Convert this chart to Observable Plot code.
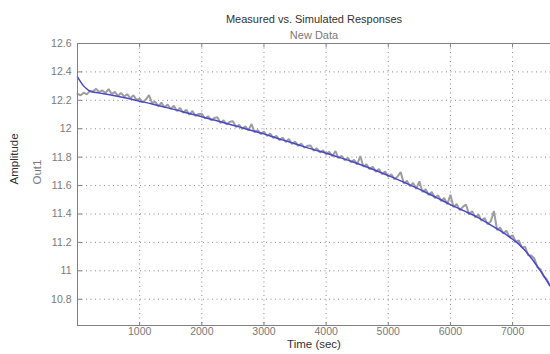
<!DOCTYPE html>
<html><head><meta charset="utf-8">
<script src="https://cdn.jsdelivr.net/npm/d3@7"></script>
<script src="https://cdn.jsdelivr.net/npm/@observablehq/plot@0.6"></script>
<style>body{margin:0;background:#fff} svg{display:block}</style>
</head><body><div id="chart"></div>
<script>
const titleText = "Measured vs. Simulated Responses";
const subtitleText = "New Data";
const xLabel = "Time (sec)";
const yLabel = "Amplitude";
const outLabel = "Out1";

const xTicks = [1000, 2000, 3000, 4000, 5000, 6000, 7000];
const yTicks = [10.8, 11, 11.2, 11.4, 11.6, 11.8, 12, 12.2, 12.4, 12.6];
const xDomain = [0, 7610];
const yDomain = [10.615, 12.6];

// Simulated response (smooth, blue)
const simTime = [0,50,100,150,200,300,400,600,800,1000,1200,1400,1600,1800,2000,2200,2400,2600,2800,3000,3200,3400,3600,3800,4000,4200,4400,4600,4800,5000,5200,5400,5600,5800,6000,6200,6400,6600,6800,7000,7100,7200,7300,7400,7500,7600];
const simValue = [12.365,12.33,12.30,12.28,12.265,12.255,12.248,12.232,12.214,12.194,12.174,12.152,12.131,12.107,12.085,12.061,12.037,12.013,11.988,11.964,11.935,11.908,11.880,11.853,11.828,11.800,11.771,11.740,11.706,11.670,11.633,11.594,11.553,11.510,11.466,11.425,11.385,11.335,11.282,11.222,11.188,11.143,11.090,11.030,10.965,10.895];

// Measured response (noisy, gray), one sample every 50 s from 0 s
const measStep = 50;
const measValue = [
12.245,12.236,12.254,12.242,12.266,12.262,12.281,12.258,12.270,12.251,
12.279,12.244,12.259,12.231,12.252,12.226,12.243,12.214,12.236,12.203,
12.212,12.186,12.205,12.237,12.181,12.190,12.158,12.184,12.150,12.170,
12.139,12.162,12.124,12.146,12.112,12.133,12.099,12.125,12.090,12.104,
12.105,12.072,12.088,12.060,12.075,12.081,12.041,12.060,12.030,12.049,
12.053,12.012,12.028,11.999,12.017,11.988,12.033,11.975,11.990,11.962,
11.980,11.950,11.966,11.935,11.950,11.920,11.937,11.907,11.928,11.893,
11.910,11.879,11.896,11.866,11.880,11.882,11.846,11.862,11.834,11.848,
11.821,11.837,11.807,11.843,11.793,11.810,11.779,11.796,11.764,11.781,
11.749,11.808,11.733,11.750,11.716,11.733,11.698,11.716,11.680,11.699,
11.662,11.680,11.644,11.664,11.695,11.615,11.633,11.596,11.618,11.576,
11.630,11.555,11.575,11.534,11.555,11.513,11.532,11.491,11.512,11.469,
11.535,11.448,11.470,11.427,11.450,11.467,11.397,11.420,11.377,11.396,
11.352,11.372,11.327,11.350,11.420,11.287,11.305,11.262,11.283,11.238,
11.250,11.205,11.214,11.163,11.170,11.110,11.108,11.087,11.024,11.010,
10.962,10.940,10.897];

const sim = simTime.map((t, i) => ({t, v: simValue[i]}));
const meas = measValue.map((v, i) => ({t: i * measStep, v}));

const gridStyle = {stroke: "#8a8a8a", strokeOpacity: 1, strokeDasharray: "1,3.5"};
const frameColor = "#808080";

const chart = Plot.plot({
  width: 550,
  height: 354,
  marginTop: 43,
  marginBottom: 29,
  marginLeft: 77,
  marginRight: 0,
  style: {fontFamily: "Arial, 'Liberation Sans', Helvetica, sans-serif", background: "#fff"},
  x: {domain: xDomain},
  y: {domain: yDomain},
  marks: [
    Plot.gridX(xTicks, gridStyle),
    Plot.gridY(yTicks, gridStyle),
    Plot.line(meas, {x: "t", y: "v", stroke: "#9e9e9e", strokeWidth: 2, strokeLinejoin: "miter"}),
    Plot.line(sim, {x: "t", y: "v", stroke: "#4848cc", strokeWidth: 1.5, curve: "monotone-x"}),
    Plot.ruleX([xDomain[0]], {stroke: frameColor}),
    Plot.ruleY([yDomain[1]], {stroke: frameColor}),
    Plot.ruleY([yDomain[0]], {stroke: frameColor}),
    Plot.axisX(xTicks, {anchor: "bottom", frameAnchor: "top", tickSize: 4, fill: "none", stroke: frameColor, label: null}),
    Plot.axisX(xTicks, {anchor: "top", frameAnchor: "bottom", tickSize: 4, fill: "none", stroke: frameColor, label: null}),
    Plot.axisY(yTicks, {anchor: "right", frameAnchor: "left", tickSize: 4, fill: "none", stroke: frameColor, label: null}),
    Plot.axisX(xTicks, {anchor: "bottom", tickSize: 0, tickPadding: 2, fontSize: 10.5, fill: "#7a7a7a", label: null, tickFormat: d => String(d)}),
    Plot.axisY(yTicks, {anchor: "left", tickSize: 0, tickPadding: 6, fontSize: 10.5, fill: "#7a7a7a", label: null, tickFormat: d => String(d)}),
    Plot.text([titleText], {frameAnchor: "top", dy: -28, fontSize: 11, fill: "#333"}),
    Plot.text([subtitleText], {frameAnchor: "top", dy: -12, fontSize: 11, fill: "#7a7a7a"}),
    Plot.text([xLabel], {frameAnchor: "bottom", dy: 22, fontSize: 11.5, fill: "#333"}),
    Plot.text([yLabel], {frameAnchor: "left", dx: -63, rotate: -90, fontSize: 11.5, fill: "#333"}),
    Plot.text([outLabel], {frameAnchor: "left", dx: -40, rotate: -90, fontSize: 11.5, fill: "#7a7a7a"})
  ]
});
document.getElementById("chart").appendChild(chart);
</script>
</body></html>
